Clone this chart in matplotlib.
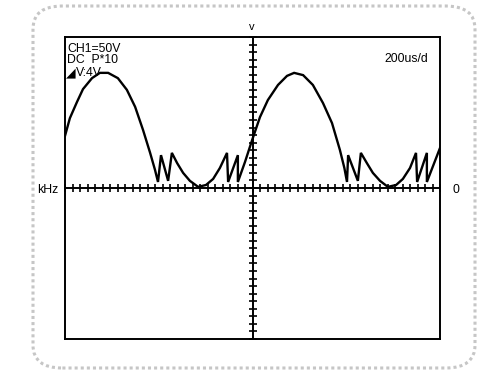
import numpy as np
import matplotlib
matplotlib.use("Agg")
import matplotlib.pyplot as plt
from matplotlib.patches import FancyBboxPatch

# waveform, in divisions (x: 200us/div, y: 4V/div)
t_div = [-5.00, -4.87, -4.68, -4.52, -4.28, -4.07, -3.85, -3.59, -3.35, -3.13,
         -2.92, -2.73, -2.60, -2.52, -2.44, -2.25, -2.15, -2.01, -1.85, -1.67,
         -1.45, -1.24, -1.05, -0.87, -0.68, -0.65, -0.39, -0.39, -0.20, -0.01,
         0.20, 0.41, 0.68, 0.92, 1.11, 1.35, 1.61, 1.88, 2.12, 2.33,
         2.45, 2.52, 2.55, 2.81, 2.89, 3.05, 3.21, 3.40, 3.61, 3.83,
         4.01, 4.20, 4.36, 4.39, 4.65, 4.65, 5.00]
v_div = [1.38, 1.85, 2.28, 2.62, 2.91, 3.05, 3.05, 2.91, 2.60, 2.15,
         1.54, 0.93, 0.48, 0.16, 0.87, 0.19, 0.93, 0.66, 0.40, 0.19,
         0.03, 0.08, 0.24, 0.53, 0.93, 0.16, 0.87, 0.16, 0.69, 1.27,
         1.88, 2.33, 2.73, 2.97, 3.05, 2.99, 2.73, 2.25, 1.72, 1.01,
         0.53, 0.16, 0.87, 0.19, 0.93, 0.66, 0.40, 0.19, 0.03, 0.08,
         0.24, 0.53, 0.93, 0.16, 0.93, 0.16, 1.06]

x_ticks = np.arange(-5, 5.01, 0.2)
y_ticks = np.arange(-4, 4.01, 0.2)

W, H = 490, 381
fig = plt.figure(figsize=(W / 100, H / 100), dpi=100)
plt.rcParams['font.family'] = ['Liberation Sans', 'DejaVu Sans']

# scanned bezel around the screen
bezel = FancyBboxPatch((33 / W, 1 - 368 / H), 442 / W, 362 / H,
                       boxstyle="round,pad=0,rounding_size=0.06",
                       transform=fig.transFigure, fill=False,
                       edgecolor='#c6c6c6', linestyle=(0, (1, 1)),
                       linewidth=2.2)
fig.patches.append(bezel)

ax = fig.add_axes([65 / W, 1 - 339 / H, 375 / W, 302 / H])
ax.set_xlim(-5, 5)
ax.set_ylim(-4, 4)
for s in ax.spines.values():
    s.set_linewidth(1.4)
ax.set_xticks([])
ax.set_yticks([])

# centre cross with graticule marks
ax.axhline(0, color='black', lw=1.4)
ax.axvline(0, color='black', lw=1.4)
ax.plot(x_ticks, np.zeros_like(x_ticks), ls='none', marker='|', ms=5.5,
        mew=1.2, color='black', clip_on=False)
ax.plot(np.zeros_like(y_ticks), y_ticks, ls='none', marker='_', ms=5.5,
        mew=1.2, color='black', clip_on=False)

ax.plot(t_div, v_div, color='black', lw=1.7, solid_joinstyle='miter')

def ftext(px, py, s, size=8.8, **kw):
    fig.text(px / W, 1 - py / H, s, fontsize=size, color='black', **kw)

ftext(67, 52, "CH1=50V", va='baseline')
ftext(67, 63, "DC  P*10", va='baseline')
ftext(66, 76, "\u25E2", size=9, va='baseline', family=['DejaVu Sans'])
ftext(76, 76, "V:4V", va='baseline')
ftext(384, 62, "200us/d", va='baseline')
ftext(252, 30, "v", size=8, va='baseline', ha='center')
ftext(58, 193, "kHz", va='baseline', ha='right')
ftext(452, 193, "0", va='baseline')

fig.savefig("out.png", dpi=100)
